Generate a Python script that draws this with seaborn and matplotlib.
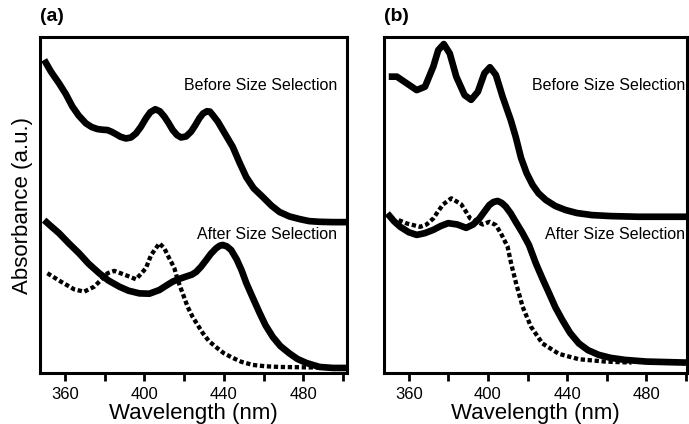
import matplotlib
matplotlib.use("Agg")
import matplotlib.pyplot as plt
import seaborn as sns

# ---- data (arbitrary absorbance units) ----
a_before_x = [349.6, 353, 357.1, 360.5, 363.8, 367, 370.6, 373.5, 376.4, 379, 381.5, 383.5, 385.7, 388, 390.8,
              393.3, 395.8, 398.3, 400.8, 403, 405.5, 407.8, 410.1, 412.2, 414.3, 416.5, 418.5, 421, 423.5,
              425.6, 427.7, 429.5, 431.5, 433, 434.4, 437, 439.5, 442, 444.5, 448, 451.3, 455, 459.6, 464,
              468.1, 473, 478.2, 483, 488.2, 495, 501.7]
a_before_y = [0.932, 0.897, 0.862, 0.830, 0.793, 0.766, 0.743, 0.732, 0.726, 0.724, 0.723, 0.718, 0.711, 0.703,
              0.698, 0.701, 0.713, 0.733, 0.758, 0.776, 0.785, 0.779, 0.763, 0.744, 0.723, 0.708, 0.701, 0.704,
              0.718, 0.737, 0.758, 0.772, 0.779, 0.778, 0.768, 0.748, 0.723, 0.698, 0.673, 0.625, 0.583, 0.550,
              0.524, 0.498, 0.479, 0.466, 0.458, 0.452, 0.450, 0.449, 0.449]

a_after_x = [349.6, 353, 357.1, 362, 367.2, 372, 377.3, 382, 387.4, 392, 397.5, 402.5, 407.6, 411, 414.3, 418,
             421, 424, 426.1, 428.5, 431.1, 433.5, 436.1, 438, 439.5, 441.5, 443.7, 446.5, 449, 451.3, 454.5,
             458, 461, 464.7, 468.5, 473.1, 477, 481.5, 488.2, 495, 501.7]
a_after_y = [0.455, 0.437, 0.416, 0.386, 0.356, 0.325, 0.297, 0.275, 0.257, 0.245, 0.237, 0.236, 0.247, 0.260,
             0.272, 0.281, 0.287, 0.293, 0.301, 0.316, 0.336, 0.355, 0.371, 0.379, 0.381, 0.377, 0.366, 0.338,
             0.305, 0.268, 0.225, 0.179, 0.142, 0.107, 0.080, 0.058, 0.042, 0.030, 0.018, 0.015, 0.015]

a_dot_x = [351.2, 358.0, 364.7, 369.7, 374.8, 378.2, 381.5, 384.9, 391.6, 395.8, 398.3, 400.8, 403.4, 407.6,
           410.1, 411.7, 413.5, 415.1, 416.8, 419.3, 421.8, 424.3, 429.4, 432.5, 436.1, 440.0, 444.5, 449.0,
           454.6, 461.0, 468.1, 501.7]
a_dot_y = [0.297, 0.272, 0.249, 0.242, 0.257, 0.277, 0.297, 0.304, 0.289, 0.279, 0.295, 0.312, 0.351, 0.386,
           0.371, 0.351, 0.331, 0.312, 0.277, 0.237, 0.197, 0.167, 0.119, 0.095, 0.077, 0.059, 0.045, 0.033,
           0.024, 0.020, 0.018, 0.015]

b_before_x = [349.9, 354.0, 359.0, 364.0, 368.2, 372.4, 374.9, 377.7, 380.7, 384.0, 388.2, 391.5, 394.9, 398.2,
              401.0, 404.0, 407.4, 411.5, 414.0, 416.7, 419.5, 422.5, 425.5, 429.2, 434.0, 439.2, 445.0, 452.5,
              462.0, 475.8, 500.0]
b_before_y = [0.882, 0.882, 0.862, 0.842, 0.852, 0.912, 0.961, 0.979, 0.951, 0.882, 0.827, 0.813, 0.837, 0.892,
              0.910, 0.887, 0.822, 0.753, 0.703, 0.640, 0.595, 0.560, 0.535, 0.515, 0.497, 0.485, 0.476, 0.470,
              0.467, 0.465, 0.465]

b_after_x = [349.2, 352.5, 355.7, 360, 364, 368, 372.4, 376, 379.9, 384.5, 389, 392.5, 395.7, 398.3, 400.7,
             402.8, 404.9, 407, 409, 411.5, 414, 417.3, 420.7, 424.2, 427.5, 430.9, 434, 437.5, 441.5, 445.9,
             450.5, 455.9, 462, 469.2, 480, 500]
b_after_y = [0.475, 0.452, 0.435, 0.419, 0.411, 0.416, 0.426, 0.437, 0.446, 0.442, 0.432, 0.442, 0.460, 0.481,
             0.500, 0.509, 0.512, 0.506, 0.495, 0.475, 0.450, 0.418, 0.381, 0.326, 0.281, 0.237, 0.196, 0.158,
             0.119, 0.088, 0.068, 0.054, 0.045, 0.039, 0.034, 0.031]

b_dot_x = [354.9, 359.0, 365.7, 369.0, 372.4, 374.9, 377.4, 381.5, 386.5, 388.7, 391.0, 397.4, 400.7, 404.0,
           406.5, 409.9, 411.7, 414.2, 417.5, 421.7, 427.5, 435.8, 445.9, 459.2, 472.5]
b_dot_y = [0.455, 0.445, 0.435, 0.442, 0.460, 0.482, 0.502, 0.520, 0.502, 0.482, 0.460, 0.442, 0.450, 0.440,
           0.416, 0.376, 0.326, 0.267, 0.197, 0.138, 0.088, 0.057, 0.041, 0.034, 0.031]

major_ticks = [360, 400, 440, 480]
minor_ticks = [380, 420, 460, 500]
before_label = "Before Size Selection"
after_label = "After Size Selection"
panel_labels = ["(a)", "(b)"]

# ---- style ----
sns.set_theme(style="ticks")
plt.rcParams['font.family'] = ['Liberation Sans', 'DejaVu Sans']
plt.rcParams['text.color'] = 'black'
plt.rcParams['axes.labelcolor'] = 'black'
plt.rcParams['xtick.color'] = 'black'
plt.rcParams['ytick.color'] = 'black'

fig = plt.figure(figsize=(6.89, 4.24), dpi=100)
axA = fig.add_axes([40/689, 1-373/424, (347-40)/689, (373-37)/424])
axB = fig.add_axes([384/689, 1-373/424, (687-384)/689, (373-37)/424])

solid_kw = dict(color='black', linewidth=4.8, solid_joinstyle='round', solid_capstyle='butt')
dot_kw = dict(color='black', linewidth=3.1, linestyle=(0, (1, 0.62)), dash_capstyle='butt')

panels = [
    (axA, a_before_x, a_before_y, a_after_x, a_after_y, a_dot_x, a_dot_y, (347.5, 502), panel_labels[0], 0.967),
    (axB, b_before_x, b_before_y, b_after_x, b_after_y, b_dot_x, b_dot_y, (347.5, 500.5), panel_labels[1], 0.993),
]

for ax, bx, by, ax_, ay, dx, dy, xl, lab, tx in panels:
    sns.lineplot(x=dx, y=dy, ax=ax, estimator=None, sort=False, **dot_kw)
    sns.lineplot(x=bx, y=by, ax=ax, estimator=None, sort=False, **solid_kw)
    sns.lineplot(x=ax_, y=ay, ax=ax, estimator=None, sort=False, **solid_kw)
    ax.set_xlim(*xl)
    ax.set_ylim(0, 1)
    ax.set_yticks([])
    ax.set_xticks(major_ticks)
    ax.set_xticks(minor_ticks, minor=True)
    ax.tick_params(axis='x', which='both', direction='out', length=6, width=2, colors='black',
                   labelsize=12, pad=4)
    for s in ax.spines.values():
        s.set_linewidth(2.2)
        s.set_color('black')
        s.set_visible(True)
    ax.set_xlabel("Wavelength (nm)", fontsize=16, labelpad=1)
    ax.text(tx, 0.857, before_label, transform=ax.transAxes, ha='right', va='center', fontsize=11.5)
    ax.text(tx, 0.411, after_label, transform=ax.transAxes, ha='right', va='center', fontsize=11.5)
    ax.text(0.0, 1.06, lab, transform=ax.transAxes, ha='left', va='center', fontsize=14, fontweight='bold')

axA.set_ylabel("Absorbance (a.u.)", fontsize=16, labelpad=5)
axB.set_ylabel("")

fig.savefig("out.png", dpi=100)
